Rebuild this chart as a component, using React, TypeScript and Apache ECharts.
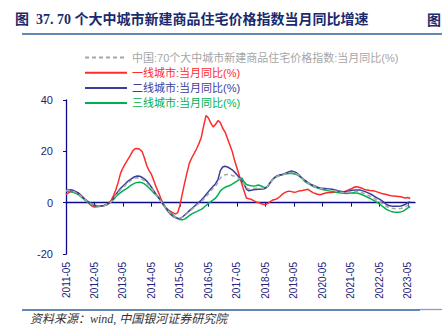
import React, { useEffect, useRef } from "react";
import * as echarts from "echarts";

const startYear = 2011;
const startMonth = 5;
const monthCount = 148;
const months: string[] = [];
for (let i = 0; i < monthCount; i++) {
  const t = startMonth - 1 + i;
  const y = startYear + Math.floor(t / 12);
  const m = (t % 12) + 1;
  months.push(`${y}-${m < 10 ? "0" + m : m}`);
}

const seriesNames = [
  "中国:70个大中城市新建商品住宅价格指数:当月同比(%)",
  "一线城市:当月同比(%)",
  "二线城市:当月同比(%)",
  "三线城市:当月同比(%)",
];
const seriesColors = ["#a6a6a6", "#ff2b2b", "#3c3c9c", "#00b050"];

const national = [
  4.6, 4.7, 4.7, 4.4, 4.0, 3.6, 2.8, 2.0, 1.2, 0.5, -0.1, -0.6, -1.0, -1.2, -1.3, -1.2, -1.1, -0.8, -0.3, 0.4,
  1.5, 2.8, 4.0, 5.0, 5.9, 6.8, 7.6, 8.4, 9.0, 9.5, 9.7, 9.6, 9.2, 8.6, 7.7, 6.7, 5.6, 4.3, 3.0, 1.8,
  0.6, -0.8, -2.1, -3.2, -4.2, -5.0, -5.6, -5.9, -6.1, -5.7, -5.0, -4.2, -3.4, -2.6, -1.8, -1.0, -0.3, 0.5, 1.3, 2.3,
  3.4, 4.6, 5.6, 6.5, 7.9, 9.6, 10.5, 10.9, 11.0, 10.9, 10.6, 10.3, 9.9, 9.4, 8.6, 7.3, 5.8, 5.2, 5.3, 5.5,
  5.6, 5.6, 5.5, 5.5, 5.6, 6.5, 7.8, 9.0, 9.8, 10.3, 10.6, 10.8, 11.1, 11.4, 11.7, 11.8, 11.7, 11.3, 10.7, 9.9,
  9.0, 8.3, 7.6, 7.0, 6.6, 6.2, 5.8, 5.6, 5.4, 5.2, 5.1, 5.0, 4.9, 4.7, 4.5, 4.3, 4.1, 4.0, 4.0, 4.1,
  4.3, 4.4, 4.4, 4.3, 4.1, 3.8, 3.4, 3.0, 2.6, 2.1, 1.6, 1.0, 0.4, -0.2, -0.9, -1.5, -1.9, -2.2, -2.3, -2.4,
  -2.4, -2.3, -2.0, -1.6, -0.9, -0.4,
];

const tier1 = [
  3.2, 3.8, 4.3, 4.2, 4.0, 3.9, 3.2, 2.3, 1.3, 0.4, -0.6, -1.4, -1.7, -1.6, -1.5, -1.3, -1.1, -0.8, -0.2, 0.8,
  2.8, 5.0, 8.0, 11.5, 13.6, 15.2, 16.8, 18.2, 20.0, 21.0, 21.1, 20.8, 20.0, 17.5, 14.5, 12.5, 11.0, 8.5, 6.0, 3.9,
  1.5, -0.5, -1.9, -2.7, -3.4, -3.9, -4.4, -4.0, -1.0, 3.5, 7.8, 11.8, 15.5, 17.5, 19.2, 21.0, 23.0, 25.5, 30.0, 34.0,
  33.0, 31.0, 29.5, 30.5, 32.0, 31.2, 29.0, 27.5, 25.0, 22.5, 20.0, 16.5, 13.5, 10.5, 7.5, 4.5, 1.8, 1.5, 1.3, 0.8,
  0.3, 0.1, -0.3, -0.6, -0.8, -0.3, 0.4, 1.0, 1.2, 1.6, 2.3, 3.2, 3.8, 4.3, 4.5, 4.3, 4.1, 4.2, 4.5, 4.6,
  4.8, 5.0, 5.2, 4.5, 3.9, 3.6, 3.3, 3.1, 3.4, 3.7, 3.9, 4.0, 4.0, 4.1, 4.1, 4.2, 4.3, 4.3, 4.6, 5.0,
  5.3, 5.8, 6.2, 6.1, 5.8, 5.5, 5.0, 4.9, 4.7, 4.6, 4.5, 4.2, 3.9, 3.6, 3.4, 3.2, 2.9, 2.7, 2.6, 2.5,
  2.4, 2.3, 2.0, 1.8, 2.0, 1.6,
];

const tier2 = [
  4.8, 4.9, 5.0, 4.8, 4.4, 3.9, 3.0, 2.1, 1.3, 0.6, 0.0, -0.5, -0.9, -1.2, -1.3, -1.2, -1.1, -0.8, -0.2, 0.4,
  1.7, 3.2, 4.4, 5.6, 6.5, 7.4, 8.3, 9.0, 9.6, 10.1, 10.4, 10.3, 9.9, 9.3, 8.4, 7.3, 6.0, 4.6, 3.2, 1.9,
  0.6, -0.9, -2.2, -3.4, -4.5, -5.3, -5.8, -6.1, -6.2, -5.6, -4.8, -4.0, -3.1, -2.3, -1.5, -0.6, 0.1, 1.0, 2.0, 3.2,
  4.3, 5.4, 6.4, 7.4, 9.0, 12.5, 13.9, 14.2, 13.9, 13.4, 12.8, 11.9, 10.9, 9.8, 8.6, 7.2, 5.3, 4.6, 4.8, 5.0,
  5.1, 5.2, 5.2, 5.3, 5.6, 6.5, 7.8, 9.0, 9.9, 10.5, 10.8, 11.0, 11.3, 11.7, 12.1, 12.3, 12.1, 11.7, 10.9, 10.0,
  9.2, 8.5, 7.8, 7.2, 6.8, 6.4, 6.0, 5.7, 5.6, 5.5, 5.4, 5.3, 5.2, 5.0, 4.8, 4.5, 4.4, 4.3, 4.3, 4.5,
  4.7, 4.8, 4.9, 4.9, 4.9, 4.6, 4.3, 3.9, 3.5, 3.0, 2.4, 1.9, 1.4, 0.8, 0.0, -0.7, -1.1, -1.3, -1.4, -1.4,
  -1.4, -1.3, -1.0, -0.6, 0.0, 0.4,
];

const tier3 = [
  4.4, 4.4, 4.3, 4.0, 3.7, 3.2, 2.5, 1.8, 1.0, 0.3, -0.3, -0.8, -1.1, -1.3, -1.3, -1.2, -1.1, -0.9, -0.4, 0.3,
  1.2, 2.3, 3.2, 3.9, 4.6, 5.2, 5.8, 6.5, 7.1, 7.6, 7.9, 8.0, 7.8, 7.3, 6.6, 5.7, 4.8, 3.8, 2.9, 1.9,
  0.8, -0.5, -1.9, -3.0, -3.9, -4.7, -5.5, -6.2, -6.6, -6.7, -6.4, -5.7, -5.0, -4.4, -3.9, -3.5, -3.0, -2.6, -1.9, -1.1,
  -0.3, 0.4, 1.1, 1.8, 3.0, 4.5, 5.4, 6.0, 6.4, 6.7, 7.2, 7.8, 8.4, 9.0, 9.6, 8.2, 7.1, 6.8, 6.6, 6.5,
  6.6, 6.9, 6.6, 6.1, 5.8, 6.4, 7.7, 9.0, 9.8, 10.3, 10.6, 10.9, 11.1, 11.3, 11.4, 11.4, 11.3, 11.0, 10.5, 9.7,
  8.8, 8.0, 7.4, 6.9, 6.4, 6.0, 5.7, 5.4, 5.1, 4.9, 4.7, 4.6, 4.4, 4.2, 4.0, 3.9, 3.8, 3.7, 3.6, 3.7,
  3.8, 3.9, 3.8, 3.7, 3.4, 3.0, 2.6, 2.1, 1.7, 1.2, 0.7, 0.1, -0.5, -1.2, -1.9, -2.6, -3.1, -3.4, -3.6, -3.7,
  -3.7, -3.6, -3.3, -2.7, -2.0, -1.5,
];

const yTicks = [-20, 0, 20, 40];
const titleText = "图  37. 70 个大中城市新建商品住宅价格指数当月同比增速";
const sourceText = "资料来源：wind, 中国银河证券研究院";

const navy = "#0c0c8a";
const labelColor = "#23237a";
const sansFont = "'Liberation Sans', 'Noto Sans CJK SC', sans-serif";

export default function App() {
  const ref = useRef<HTMLDivElement>(null);
  useEffect(() => {
    if (!ref.current) return;
    const chart = echarts.init(ref.current, null, { renderer: "svg" });
    const allData = [national, tier1, tier2, tier3];
    const series = seriesNames.map((name, i) => ({
      name,
      type: "line",
      xAxisIndex: 0,
      data: allData[i],
      symbol: "none",
      smooth: false,
      z: i === 0 ? 5 : i === 1 ? 2 : i === 2 ? 4 : 3,
      lineStyle: {
        color: seriesColors[i],
        width: 1.5,
        type: i === 0 ? [4, 3] : "solid",
      },
      itemStyle: { color: seriesColors[i] },
    }));
    chart.setOption({
      animation: false,
      grid: { left: 66, right: 27, top: 100, bottom: 75 },
      legend: {
        orient: "vertical",
        left: 79,
        top: 47,
        itemWidth: 42,
        itemHeight: 12,
        itemGap: 4.2,
        itemStyle: { opacity: 0 },
        data: seriesNames.map((n, i) => ({
          name: n,
          textStyle: { color: seriesColors[i] },
        })),
        textStyle: { fontSize: 11, fontFamily: sansFont },
      },
      xAxis: [
        {
          type: "category",
          data: months,
          boundaryGap: false,
          position: "bottom",
          axisLine: { show: false, onZero: false },
          axisTick: { show: false },
          splitLine: { show: false },
          axisLabel: {
            rotate: 90,
            interval: (i: number) => i % 12 === 0,
            color: labelColor,
            fontSize: 10,
            fontFamily: sansFont,
            margin: 8,
          },
        },
        {
          type: "category",
          data: months,
          boundaryGap: false,
          position: "top",
          axisLine: { show: true, onZero: true, lineStyle: { color: navy, width: 1.3 } },
          axisTick: {
            show: true,
            inside: true,
            length: 4,
            interval: (i: number) => i % 12 === 0,
            lineStyle: { color: navy, width: 1 },
          },
          axisLabel: { show: false },
          splitLine: { show: false },
        },
      ],
      yAxis: {
        type: "value",
        min: yTicks[0],
        max: yTicks[yTicks.length - 1],
        interval: 20,
        axisLine: { show: true, lineStyle: { color: navy, width: 1.3 } },
        axisTick: { show: true, length: 3, lineStyle: { color: navy } },
        splitLine: { show: false },
        axisLabel: { color: labelColor, fontSize: 11, fontFamily: sansFont, margin: 13 },
      },
      graphic: [
        {
          type: "text",
          left: 15,
          top: 12,
          style: {
            text: titleText,
            fill: "#1a2a6c",
            font: "bold 14px 'Liberation Serif', 'Noto Sans CJK SC', serif",
          },
        },
        {
          type: "text",
          left: 427,
          top: 12,
          style: {
            text: "图",
            fill: "#1a2a6c",
            font: "bold 14px 'Noto Sans CJK SC', serif",
          },
        },
        {
          type: "line",
          shape: { x1: 22, y1: 34, x2: 442, y2: 34 },
          style: { stroke: "#2e5f9e", lineWidth: 1.5 },
        },
        {
          type: "line",
          shape: { x1: 22, y1: 310, x2: 420, y2: 310 },
          style: { stroke: "#2e5f9e", lineWidth: 1.3 },
        },
        {
          type: "line",
          shape: { x1: 420, y1: 309.5, x2: 442, y2: 309.5 },
          style: { stroke: "#7fa0cc", lineWidth: 1.3 },
        },
        {
          type: "text",
          left: 30,
          top: 313,
          style: {
            text: sourceText,
            fill: "#333333",
            font: "italic 12px 'Liberation Serif', 'Noto Sans CJK SC', serif",
          },
        },
      ],
      series,
    });
    return () => chart.dispose();
  }, []);
  return (
    <div
      ref={ref}
      style={{ position: "fixed", left: 0, top: 0, width: 442, height: 329, background: "#fff" }}
    />
  );
}
